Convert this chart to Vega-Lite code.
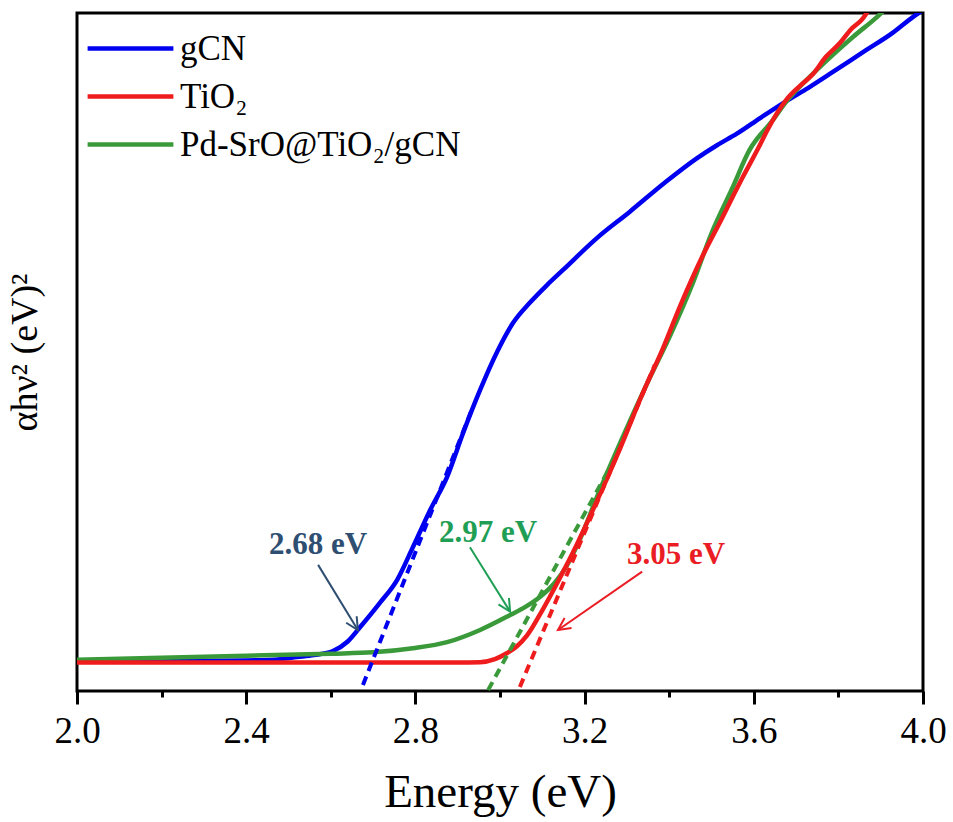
{
  "$schema": "https://vega.github.io/schema/vega-lite/v6.json",
  "width": 846,
  "height": 678,
  "autosize": {"type": "none"},
  "padding": {"left": 77, "top": 13, "right": 30, "bottom": 131},
  "background": "white",
  "config": {
    "view": {"stroke": "black", "strokeWidth": 3},
    "font": "Times New Roman",
    "axis": {"labelFont": "Times New Roman", "titleFont": "Liberation Serif"},
    "legend": {"labelFont": "Liberation Serif"},
    "text": {"font": "Liberation Serif"}
  },
  "datasets": {
    "curves": [
      {"s": "gCN", "E": 2.0, "v": 4.4}, {"s": "gCN", "E": 2.2, "v": 4.4}, {"s": "gCN", "E": 2.4, "v": 4.5}, {"s": "gCN", "E": 2.48, "v": 4.7}, {"s": "gCN", "E": 2.52, "v": 5.0}, {"s": "gCN", "E": 2.56, "v": 5.3}, {"s": "gCN", "E": 2.605, "v": 5.9}, {"s": "gCN", "E": 2.64, "v": 7.3}, {"s": "gCN", "E": 2.669, "v": 9.4}, {"s": "gCN", "E": 2.716, "v": 13.0}, {"s": "gCN", "E": 2.757, "v": 16.4}, {"s": "gCN", "E": 2.794, "v": 21.2}, {"s": "gCN", "E": 2.835, "v": 26.7}, {"s": "gCN", "E": 2.875, "v": 31.6}, {"s": "gCN", "E": 2.913, "v": 38.1}, {"s": "gCN", "E": 2.953, "v": 44.4}, {"s": "gCN", "E": 2.993, "v": 50.0}, {"s": "gCN", "E": 3.031, "v": 54.3}, {"s": "gCN", "E": 3.071, "v": 57.3}, {"s": "gCN", "E": 3.11, "v": 59.8}, {"s": "gCN", "E": 3.149, "v": 62.1}, {"s": "gCN", "E": 3.229, "v": 66.8}, {"s": "gCN", "E": 3.307, "v": 70.7}, {"s": "gCN", "E": 3.39, "v": 75.0}, {"s": "gCN", "E": 3.466, "v": 78.6}, {"s": "gCN", "E": 3.513, "v": 80.5}, {"s": "gCN", "E": 3.56, "v": 82.2}, {"s": "gCN", "E": 3.615, "v": 84.5}, {"s": "gCN", "E": 3.674, "v": 86.9}, {"s": "gCN", "E": 3.73, "v": 89.0}, {"s": "gCN", "E": 3.787, "v": 91.3}, {"s": "gCN", "E": 3.86, "v": 94.3}, {"s": "gCN", "E": 3.929, "v": 97.1}, {"s": "gCN", "E": 3.976, "v": 99.4}, {"s": "gCN", "E": 3.995, "v": 100.2},

      {"s": "Pd-SrO@TiO₂/gCN", "E": 2.0, "v": 4.6}, {"s": "Pd-SrO@TiO₂/gCN", "E": 2.2, "v": 4.9}, {"s": "Pd-SrO@TiO₂/gCN", "E": 2.4, "v": 5.2}, {"s": "Pd-SrO@TiO₂/gCN", "E": 2.6, "v": 5.5}, {"s": "Pd-SrO@TiO₂/gCN", "E": 2.7, "v": 5.7}, {"s": "Pd-SrO@TiO₂/gCN", "E": 2.794, "v": 6.3}, {"s": "Pd-SrO@TiO₂/gCN", "E": 2.875, "v": 7.2}, {"s": "Pd-SrO@TiO₂/gCN", "E": 2.953, "v": 9.0}, {"s": "Pd-SrO@TiO₂/gCN", "E": 3.024, "v": 11.2}, {"s": "Pd-SrO@TiO₂/gCN", "E": 3.06, "v": 12.4}, {"s": "Pd-SrO@TiO₂/gCN", "E": 3.095, "v": 13.9}, {"s": "Pd-SrO@TiO₂/gCN", "E": 3.13, "v": 16.0}, {"s": "Pd-SrO@TiO₂/gCN", "E": 3.158, "v": 18.5}, {"s": "Pd-SrO@TiO₂/gCN", "E": 3.19, "v": 22.5}, {"s": "Pd-SrO@TiO₂/gCN", "E": 3.229, "v": 28.6}, {"s": "Pd-SrO@TiO₂/gCN", "E": 3.284, "v": 36.6}, {"s": "Pd-SrO@TiO₂/gCN", "E": 3.348, "v": 45.4}, {"s": "Pd-SrO@TiO₂/gCN", "E": 3.402, "v": 52.4}, {"s": "Pd-SrO@TiO₂/gCN", "E": 3.456, "v": 60.2}, {"s": "Pd-SrO@TiO₂/gCN", "E": 3.5, "v": 67.5}, {"s": "Pd-SrO@TiO₂/gCN", "E": 3.548, "v": 74.0}, {"s": "Pd-SrO@TiO₂/gCN", "E": 3.59, "v": 79.8}, {"s": "Pd-SrO@TiO₂/gCN", "E": 3.645, "v": 84.2}, {"s": "Pd-SrO@TiO₂/gCN", "E": 3.674, "v": 86.7}, {"s": "Pd-SrO@TiO₂/gCN", "E": 3.749, "v": 91.6}, {"s": "Pd-SrO@TiO₂/gCN", "E": 3.835, "v": 96.5}, {"s": "Pd-SrO@TiO₂/gCN", "E": 3.891, "v": 99.4}, {"s": "Pd-SrO@TiO₂/gCN", "E": 3.905, "v": 100.2},

      {"s": "TiO₂", "E": 2.0, "v": 4.2}, {"s": "TiO₂", "E": 2.9, "v": 4.2}, {"s": "TiO₂", "E": 2.953, "v": 4.25}, {"s": "TiO₂", "E": 2.988, "v": 4.7}, {"s": "TiO₂", "E": 3.017, "v": 5.6}, {"s": "TiO₂", "E": 3.04, "v": 6.6}, {"s": "TiO₂", "E": 3.064, "v": 8.2}, {"s": "TiO₂", "E": 3.1, "v": 11.9}, {"s": "TiO₂", "E": 3.135, "v": 15.9}, {"s": "TiO₂", "E": 3.173, "v": 20.5}, {"s": "TiO₂", "E": 3.229, "v": 28.0}, {"s": "TiO₂", "E": 3.284, "v": 35.8}, {"s": "TiO₂", "E": 3.338, "v": 44.0}, {"s": "TiO₂", "E": 3.385, "v": 50.5}, {"s": "TiO₂", "E": 3.426, "v": 56.8}, {"s": "TiO₂", "E": 3.48, "v": 64.3}, {"s": "TiO₂", "E": 3.527, "v": 70.0}, {"s": "TiO₂", "E": 3.551, "v": 73.0}, {"s": "TiO₂", "E": 3.574, "v": 75.8}, {"s": "TiO₂", "E": 3.615, "v": 80.6}, {"s": "TiO₂", "E": 3.631, "v": 82.6}, {"s": "TiO₂", "E": 3.678, "v": 87.3}, {"s": "TiO₂", "E": 3.71, "v": 89.3}, {"s": "TiO₂", "E": 3.74, "v": 91.0}, {"s": "TiO₂", "E": 3.77, "v": 93.5}, {"s": "TiO₂", "E": 3.804, "v": 95.6}, {"s": "TiO₂", "E": 3.83, "v": 97.6}, {"s": "TiO₂", "E": 3.858, "v": 99.2}, {"s": "TiO₂", "E": 3.87, "v": 100.3}
    ],
    "tangents": [
      {"s": "gCN", "E": 2.676, "v": 0.9}, {"s": "gCN", "E": 2.936, "v": 41.9},
      {"s": "Pd-SrO@TiO₂/gCN", "E": 2.972, "v": 0.15}, {"s": "Pd-SrO@TiO₂/gCN", "E": 3.26, "v": 33.0},
      {"s": "TiO₂", "E": 3.047, "v": 0.6}, {"s": "TiO₂", "E": 3.366, "v": 48.1}
    ],
    "labels": [
      {"label": "2.68 eV", "E": 2.57, "v": 21.6},
      {"label": "2.97 eV", "E": 2.972, "v": 23.3},
      {"label": "3.05 eV", "E": 3.416, "v": 20.0}
    ],
    "arrows": [
      {"label": "2.68 eV", "E": 2.664, "v": 9.0, "E2": 2.57, "v2": 18.6},
      {"label": "2.97 eV", "E": 3.024, "v": 11.7, "E2": 2.929, "v2": 21.2},
      {"label": "3.05 eV", "E": 3.137, "v": 9.0, "E2": 3.336, "v2": 17.6}
    ]
  },
  "encoding": {
    "x": {
      "field": "E", "type": "quantitative",
      "scale": {"domain": [2, 4], "nice": false, "zero": false},
      "axis": null
    },
    "y": {
      "field": "v", "type": "quantitative",
      "scale": {"domain": [0, 100], "nice": false},
      "axis": {
        "title": "αhν² (eV)²",
        "ticks": false, "labels": false, "domain": false, "grid": false,
        "titleFontSize": 38, "titleFont": "Liberation Serif", "titleFontWeight": "normal", "titleColor": "black",
        "titlePadding": 33
      }
    }
  },
  "resolve": {"axis": {"x": "independent"}},
  "layer": [
    {
      "data": {"name": "curves"},
      "transform": [{"filter": "datum.s === 'gCN'"}],
      "mark": {"type": "line", "strokeWidth": 4.5, "clip": true, "interpolate": "monotone"},
      "encoding": {
        "x": {
          "field": "E", "type": "quantitative",
          "scale": {"domain": [2, 4], "nice": false, "zero": false},
          "axis": {
            "orient": "bottom",
            "title": "Energy (eV)",
            "values": [2.0, 2.4, 2.8, 3.2, 3.6, 4.0],
            "format": ".1f",
            "tickSize": 13, "tickWidth": 3, "tickColor": "black",
            "domain": false, "grid": false,
            "labelFontSize": 37, "labelFont": "Times New Roman", "labelFontWeight": "normal", "labelColor": "black",
            "labelPadding": 9, "labelOverlap": false, "labelFlush": false, "labelBound": false,
            "titleFontSize": 47, "titleFont": "Liberation Serif", "titleFontWeight": "normal", "titleColor": "black",
            "titlePadding": 20
          }
        },
        "color": {
          "field": "s", "type": "nominal",
          "scale": {"domain": ["gCN", "TiO₂", "Pd-SrO@TiO₂/gCN"], "range": ["#0000f0", "#ee1c1c", "#3a9a3a"]},
          "legend": {
            "orient": "none", "legendX": 36, "legendY": 18, "title": null,
            "symbolType": "M-4,0L4,0", "symbolSize": 460, "symbolStrokeWidth": 4.5,
            "labelFontSize": 35, "labelFont": "Liberation Serif", "labelColor": "black",
            "labelOffset": 32, "rowPadding": 12, "labelLimit": 0
          }
        }
      }
    },
    {
      "data": {"name": "curves"},
      "transform": [{"filter": "datum.s === 'Pd-SrO@TiO₂/gCN'"}],
      "mark": {"type": "line", "strokeWidth": 4.5, "clip": true, "interpolate": "monotone"},
      "encoding": {
        "x": {
          "field": "E", "type": "quantitative",
          "scale": {"domain": [2, 4], "nice": false, "zero": false},
          "axis": {
            "orient": "bottom", "title": null,
            "values": [2.2, 2.6, 3.0, 3.4, 3.8],
            "labels": false, "domain": false, "grid": false,
            "tickSize": 6, "tickWidth": 3, "tickColor": "black"
          }
        },
        "color": {"field": "s", "type": "nominal"}
      }
    },
    {
      "data": {"name": "curves"},
      "transform": [{"filter": "datum.s === 'TiO₂'"}],
      "mark": {"type": "line", "strokeWidth": 4.5, "clip": true, "interpolate": "monotone"},
      "encoding": {"color": {"field": "s", "type": "nominal"}}
    },
    {
      "data": {"name": "tangents"},
      "mark": {"type": "line", "strokeWidth": 4, "strokeDash": [9, 6], "clip": true},
      "encoding": {"color": {"field": "s", "type": "nominal"}}
    },
    {
      "data": {"name": "arrows"},
      "mark": {"type": "rule", "strokeWidth": 2},
      "encoding": {
        "x2": {"field": "E2"}, "y2": {"field": "v2"},
        "stroke": {"field": "label", "type": "nominal", "scale": {"domain": ["2.68 eV", "2.97 eV", "3.05 eV"], "range": ["#2f4f72", "#1f9e55", "#ea1c24"]}, "legend": null}
      }
    },
    {
      "data": {"name": "arrows"},
      "transform": [{"filter": "datum.label === '2.68 eV'"}],
      "mark": {"type": "point", "shape": "M-0.55,1.1L0,0L0.55,1.1", "filled": false, "strokeWidth": 2, "size": 500, "angle": 148.4, "opacity": 1},
      "encoding": {"stroke": {"field": "label", "type": "nominal", "legend": null}}
    },
    {
      "data": {"name": "arrows"},
      "transform": [{"filter": "datum.label === '2.97 eV'"}],
      "mark": {"type": "point", "shape": "M-0.55,1.1L0,0L0.55,1.1", "filled": false, "strokeWidth": 2, "size": 500, "angle": 148.4, "opacity": 1},
      "encoding": {"stroke": {"field": "label", "type": "nominal", "legend": null}}
    },
    {
      "data": {"name": "arrows"},
      "transform": [{"filter": "datum.label === '3.05 eV'"}],
      "mark": {"type": "point", "shape": "M-0.55,1.1L0,0L0.55,1.1", "filled": false, "strokeWidth": 2, "size": 500, "angle": 235.4, "opacity": 1},
      "encoding": {"stroke": {"field": "label", "type": "nominal", "legend": null}}
    },
    {
      "data": {"name": "labels"},
      "mark": {"type": "text", "fontSize": 31, "fontWeight": "bold", "font": "Liberation Serif", "align": "center", "baseline": "middle"},
      "encoding": {
        "text": {"field": "label"},
        "fill": {"field": "label", "type": "nominal", "scale": {"domain": ["2.68 eV", "2.97 eV", "3.05 eV"], "range": ["#2f4f72", "#1f9e55", "#ea1c24"]}, "legend": null}
      }
    }
  ]
}
